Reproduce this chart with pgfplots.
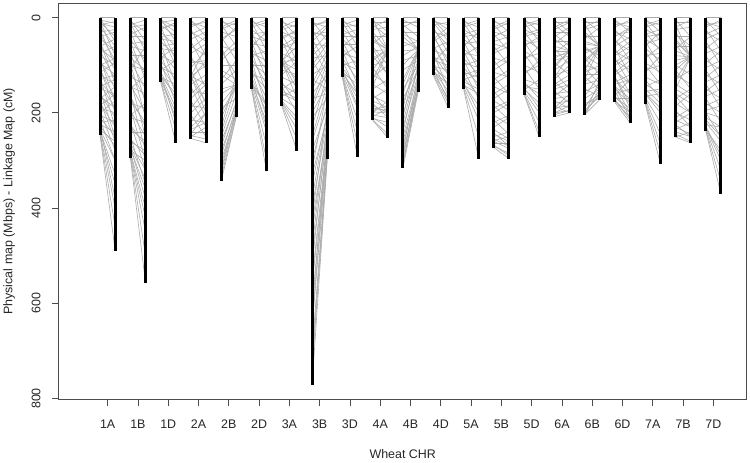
\documentclass[border=0pt]{standalone}
\usepackage{fontspec}
\setmainfont{Liberation Sans}
\usepackage{graphicx}
\usepackage{pgfplots}
\usepackage{pgfplotstable}
\pgfplotsset{compat=1.18}

% bar lengths: c = chromosome index, L = left bar, R = right bar
\pgfplotstableread{
c L R
1 247 490
2 294 557
3 135 263
4 254 263
5 344 208
6 150 323
7 186 280
8 772 298
9 125 293
10 216 252
11 316 156
12 121 190
13 149 296
14 273 296
15 162 251
16 208 200
17 204 172
18 178 221
19 182 307
20 251 263
21 238 371
}\bars

% links: position a on the left bar joined to position b on the right bar
\pgfplotstableread[row sep=\\]{
c a b\\
1 0 0\\1 5 12\\1 10 40\\1 15 8\\1 20 60\\1 30 25\\1 35 90\\1 45 70\\1 55 110\\1 60 45\\1 70 130\\1 80 100\\1 90 150\\1 100 85\\1 110 170\\1 120 140\\1 130 120\\1 140 190\\1 150 160\\1 160 210\\1 170 145\\1 180 230\\1 190 200\\1 200 175\\1 210 250\\1 220 215\\1 228 270\\1 235 300\\1 240 350\\1 243 400\\1 245 440\\1 247 490\\1 238 330\\1 225 240\\
2 0 0\\2 8 30\\2 15 5\\2 25 60\\2 35 20\\2 45 90\\2 55 50\\2 65 120\\2 80 80\\2 90 150\\2 100 110\\2 115 170\\2 125 140\\2 140 200\\2 150 120\\2 165 230\\2 180 190\\2 195 250\\2 210 220\\2 225 270\\2 240 240\\2 255 290\\2 265 320\\2 275 360\\2 282 400\\2 287 450\\2 290 500\\2 294 557\\2 270 340\\2 285 420\\
3 0 0\\3 5 20\\3 10 5\\3 15 40\\3 22 15\\3 30 60\\3 40 35\\3 50 80\\3 60 55\\3 70 110\\3 80 95\\3 90 130\\3 100 150\\3 105 120\\3 115 170\\3 120 190\\3 125 140\\3 130 210\\3 133 235\\3 135 263\\3 128 200\\
4 0 0\\4 10 20\\4 20 5\\4 30 50\\4 45 30\\4 60 80\\4 75 55\\4 90 100\\4 105 70\\4 123 60\\4 123 100\\4 123 140\\4 123 180\\4 123 200\\4 140 120\\4 155 160\\4 170 140\\4 185 190\\4 200 170\\4 215 220\\4 230 200\\4 240 240\\4 248 255\\4 254 263\\4 250 230\\
5 0 0\\5 10 15\\5 20 5\\5 30 40\\5 45 25\\5 60 70\\5 80 50\\5 100 100\\5 120 141\\5 150 141\\5 180 141\\5 210 141\\5 60 141\\5 250 160\\5 270 175\\5 290 185\\5 310 195\\5 325 200\\5 335 205\\5 344 208\\5 230 120\\5 140 110\\5 190 170\\
6 0 0\\6 8 20\\6 15 5\\6 25 50\\6 35 30\\6 45 80\\6 55 60\\6 65 110\\6 75 90\\6 85 140\\6 95 120\\6 105 170\\6 115 150\\6 125 200\\6 135 220\\6 140 240\\6 145 270\\6 148 300\\6 150 323\\6 142 185\\
7 0 0\\7 10 20\\7 20 5\\7 30 45\\7 45 25\\7 55 70\\7 65 50\\7 92 60\\7 92 90\\7 92 110\\7 92 130\\7 92 150\\7 100 80\\7 110 120\\7 125 140\\7 140 160\\7 150 130\\7 160 175\\7 170 190\\7 175 210\\7 180 235\\7 183 255\\7 186 280\\7 165 150\\
8 0 0\\8 10 20\\8 20 5\\8 30 40\\8 40 15\\8 55 60\\8 70 35\\8 85 80\\8 100 55\\8 120 100\\8 140 75\\8 160 120\\8 180 95\\8 200 140\\8 230 120\\8 260 160\\8 300 180\\8 350 200\\8 400 215\\8 450 230\\8 500 245\\8 550 255\\8 600 265\\8 650 275\\8 700 285\\8 740 292\\8 772 298\\8 320 150\\8 420 190\\8 520 225\\8 620 240\\
9 0 0\\9 8 20\\9 15 5\\9 25 45\\9 35 25\\9 45 75\\9 55 55\\9 65 100\\9 75 85\\9 85 130\\9 95 110\\9 105 150\\9 112 170\\9 118 190\\9 121 215\\9 123 240\\9 124 265\\9 125 293\\9 115 140\\
10 0 0\\10 10 10\\10 20 5\\10 30 67\\10 50 67\\10 70 67\\10 90 67\\10 110 67\\10 130 67\\10 5 30\\10 40 40\\10 60 100\\10 80 120\\10 100 90\\10 120 140\\10 140 160\\10 150 130\\10 165 180\\10 175 190\\10 185 200\\10 195 185\\10 205 210\\10 210 230\\10 214 245\\10 216 252\\10 200 175\\10 190 195\\
11 0 0\\11 10 10\\11 20 5\\11 30 30\\11 40 67\\11 70 67\\11 100 67\\11 130 67\\11 160 67\\11 190 67\\11 60 50\\11 90 80\\11 150 100\\11 200 110\\11 230 120\\11 250 130\\11 270 140\\11 290 148\\11 305 152\\11 316 156\\11 220 100\\11 280 120\\11 180 90\\
12 0 0\\12 5 25\\12 10 50\\12 15 10\\12 20 75\\12 30 40\\12 40 90\\12 50 30\\12 60 110\\12 70 80\\12 80 120\\12 90 100\\12 100 140\\12 105 130\\12 110 155\\12 115 170\\12 118 180\\12 121 190\\12 95 60\\
13 0 0\\13 8 20\\13 15 5\\13 25 45\\13 35 25\\13 45 70\\13 55 50\\13 65 95\\13 75 80\\13 85 120\\13 95 105\\13 105 140\\13 115 125\\13 125 165\\13 135 150\\13 140 185\\13 144 215\\13 147 250\\13 149 296\\13 130 120\\
14 0 0\\14 10 15\\14 20 5\\14 30 40\\14 40 25\\14 55 65\\14 70 50\\14 85 95\\14 100 80\\14 115 125\\14 130 110\\14 145 160\\14 160 140\\14 175 195\\14 190 175\\14 205 225\\14 220 205\\14 235 255\\14 250 240\\14 260 275\\14 265 265\\14 270 285\\14 273 296\\14 255 270\\14 245 260\\
15 0 0\\15 8 15\\15 15 5\\15 25 40\\15 35 25\\15 45 65\\15 55 50\\15 70 90\\15 85 75\\15 100 115\\15 115 100\\15 130 140\\15 140 160\\15 150 180\\15 155 200\\15 158 220\\15 160 240\\15 162 251\\15 145 150\\
16 0 0\\16 10 10\\16 20 5\\16 30 30\\16 40 20\\16 50 50\\16 60 70\\16 70 70\\16 80 75\\16 90 80\\16 100 70\\16 110 90\\16 120 110\\16 130 100\\16 140 120\\16 150 140\\16 160 155\\16 170 165\\16 180 175\\16 190 185\\16 200 195\\16 208 200\\16 185 200\\16 195 170\\
17 0 0\\17 10 10\\17 20 5\\17 30 60\\17 50 60\\17 70 60\\17 90 60\\17 110 60\\17 130 60\\17 40 40\\17 60 90\\17 80 100\\17 100 110\\17 120 120\\17 140 130\\17 155 140\\17 170 150\\17 185 160\\17 195 165\\17 204 172\\17 204 150\\17 204 130\\
18 0 0\\18 10 20\\18 20 5\\18 30 45\\18 40 20\\18 50 70\\18 60 40\\18 70 90\\18 80 60\\18 90 110\\18 100 80\\18 110 140\\18 120 100\\18 130 160\\18 140 130\\18 150 180\\18 160 150\\18 165 200\\18 170 170\\18 175 210\\18 178 221\\18 145 200\\18 125 180\\
19 0 0\\19 8 15\\19 15 5\\19 25 40\\19 35 25\\19 45 65\\19 55 45\\19 65 90\\19 80 75\\19 95 115\\19 110 100\\19 125 140\\19 140 160\\19 150 180\\19 160 200\\19 168 220\\19 172 245\\19 176 265\\19 179 285\\19 182 307\\19 155 150\\
20 0 0\\20 10 10\\20 20 5\\20 30 82\\20 50 82\\20 70 82\\20 90 82\\20 110 82\\20 130 82\\20 150 82\\20 40 40\\20 60 60\\20 100 120\\20 120 140\\20 140 160\\20 160 180\\20 180 200\\20 200 215\\20 215 230\\20 230 245\\20 240 250\\20 251 263\\20 170 150\\20 220 200\\20 251 240\\
21 0 0\\21 10 20\\21 20 5\\21 30 50\\21 45 30\\21 60 80\\21 75 60\\21 90 110\\21 105 90\\21 120 140\\21 135 120\\21 150 170\\21 165 150\\21 180 200\\21 195 185\\21 210 230\\21 220 260\\21 228 290\\21 233 320\\21 236 345\\21 238 371\\21 200 250\\
}\links

% more links, same layout
\pgfplotstableread[row sep=\\]{
c a b\\
1 2 50\\1 8 80\\1 12 20\\1 25 100\\1 40 30\\1 50 140\\1 65 90\\1 75 60\\1 85 180\\1 95 120\\1 105 200\\1 115 95\\1 125 230\\1 135 170\\1 145 130\\1 155 250\\1 165 190\\1 175 260\\1 185 160\\1 195 280\\1 205 220\\1 215 300\\1 232 380\\1 236 260\\
2 5 50\\2 12 70\\2 20 15\\2 30 100\\2 40 40\\2 50 130\\2 60 70\\2 70 180\\2 85 110\\2 95 210\\2 110 60\\2 130 250\\2 145 160\\2 160 280\\2 175 220\\2 190 300\\2 205 180\\2 220 320\\2 235 260\\2 250 350\\2 260 280\\2 272 380\\2 279 300\\
3 3 50\\3 8 30\\3 18 90\\3 25 10\\3 35 100\\3 45 50\\3 55 140\\3 65 70\\3 75 160\\3 85 60\\3 95 180\\3 110 90\\3 118 220\\3 123 160\\
4 5 40\\4 15 10\\4 25 80\\4 35 20\\4 50 110\\4 65 40\\4 80 150\\4 95 90\\4 110 180\\4 130 90\\4 145 210\\4 160 130\\4 175 230\\4 190 150\\4 205 250\\4 220 180\\4 235 220\\4 245 200\\
5 5 30\\5 15 60\\5 25 10\\5 40 90\\5 50 20\\5 70 120\\5 90 60\\5 110 130\\5 130 90\\5 160 141\\5 200 141\\5 240 141\\5 260 180\\5 280 195\\5 300 200\\5 320 190\\
6 3 40\\6 10 70\\6 20 10\\6 30 100\\6 40 50\\6 50 130\\6 60 30\\6 70 160\\6 80 70\\6 90 190\\6 100 100\\6 110 210\\6 120 130\\6 130 230\\6 138 180\\
7 5 40\\7 15 60\\7 25 15\\7 35 90\\7 40 30\\7 50 110\\7 60 40\\7 75 92\\7 80 140\\7 92 40\\7 92 170\\7 120 92\\7 135 180\\7 145 200\\7 155 170\\7 178 220\\
8 5 50\\8 15 10\\8 25 80\\8 35 30\\8 45 100\\8 50 20\\8 60 120\\8 80 50\\8 90 140\\8 110 70\\8 130 150\\8 150 90\\8 170 160\\8 190 110\\8 210 170\\8 250 140\\8 280 190\\8 330 210\\8 380 200\\8 430 240\\8 480 220\\8 560 270\\8 640 260\\8 720 290\\
9 3 40\\9 10 60\\9 20 15\\9 30 80\\9 40 40\\9 50 110\\9 60 35\\9 70 140\\9 80 60\\9 90 160\\9 100 90\\9 108 185\\9 117 160\\
10 2 67\\10 15 40\\10 25 20\\10 35 90\\10 45 67\\10 55 30\\10 65 120\\10 85 67\\10 105 150\\10 125 100\\10 145 67\\10 160 200\\10 170 150\\10 180 210\\10 198 200\\10 208 190\\10 212 220\\
11 5 20\\11 15 40\\11 25 67\\11 35 50\\11 50 67\\11 80 60\\11 110 90\\11 140 67\\11 170 110\\11 210 67\\11 240 100\\11 260 140\\11 285 150\\11 300 130\\11 310 145\\
12 3 40\\12 8 15\\12 25 60\\12 35 100\\12 45 20\\12 55 120\\12 65 50\\12 75 150\\12 85 90\\12 92 165\\12 102 110\\12 108 175\\12 113 140\\
13 3 40\\13 10 60\\13 20 10\\13 30 80\\13 40 35\\13 50 110\\13 60 30\\13 70 130\\13 80 60\\13 90 150\\13 100 90\\13 110 170\\13 120 110\\13 137 200\\13 142 160\\
14 5 30\\14 15 50\\14 25 10\\14 35 70\\14 50 40\\14 60 100\\14 75 60\\14 90 130\\14 110 90\\14 125 160\\14 140 120\\14 155 190\\14 170 150\\14 185 215\\14 200 180\\14 215 245\\14 230 210\\14 242 270\\14 258 250\\14 268 290\\
15 3 30\\15 10 50\\15 20 10\\15 30 70\\15 40 30\\15 50 100\\15 60 40\\15 75 120\\15 90 60\\15 105 150\\15 120 90\\15 135 170\\15 148 190\\15 152 130\\
16 5 30\\16 15 40\\16 25 10\\16 35 60\\16 45 70\\16 55 30\\16 65 100\\16 75 50\\16 85 70\\16 95 120\\16 105 70\\16 115 150\\16 125 80\\16 135 160\\16 145 130\\16 155 180\\16 165 140\\16 175 190\\16 190 160\\16 200 185\\16 204 195\\
17 5 30\\17 15 60\\17 25 15\\17 35 60\\17 45 20\\17 55 60\\17 65 80\\17 75 60\\17 85 120\\17 95 60\\17 105 140\\17 115 100\\17 125 150\\17 135 110\\17 150 165\\17 165 120\\17 180 170\\17 190 140\\17 200 160\\
18 5 30\\18 15 10\\18 25 60\\18 35 30\\18 45 90\\18 55 20\\18 65 120\\18 75 50\\18 85 140\\18 95 70\\18 105 160\\18 115 90\\18 125 190\\18 135 120\\18 145 170\\18 155 210\\18 162 130\\18 168 190\\18 172 215\\18 176 200\\
19 3 30\\19 10 50\\19 20 10\\19 30 70\\19 40 35\\19 50 100\\19 60 30\\19 70 120\\19 85 60\\19 100 140\\19 115 80\\19 130 170\\19 145 130\\19 158 190\\19 165 160\\
20 5 40\\20 15 82\\20 25 20\\20 35 60\\20 45 82\\20 55 100\\20 65 40\\20 80 82\\20 100 82\\20 110 150\\20 130 110\\20 150 170\\20 165 200\\20 185 160\\20 195 230\\20 210 190\\20 225 250\\20 235 220\\20 245 260\\
21 5 40\\21 15 10\\21 25 70\\21 35 20\\21 50 100\\21 65 40\\21 80 130\\21 95 70\\21 110 160\\21 125 100\\21 140 190\\21 155 130\\21 170 220\\21 185 170\\21 200 210\\21 215 250\\21 225 230\\21 231 300\\21 235 280\\
}\linksb

\begin{document}
\begin{tikzpicture}
\begin{axis}[
  name=ax,
  scale only axis,
  width=689bp, height=396.7bp,
  xmin=-0.615, xmax=22.1,
  ymin=-30.1, ymax=802,
  y dir=reverse,
  axis line style={black!70, line width=0.8bp},
  tick style={black!70, line width=0.8bp},
  tick align=outside,
  tick pos=left,
  major tick length=7bp,
  xtick={1,...,21},
  xticklabels={1A,1B,1D,2A,2B,2D,3A,3B,3D,4A,4B,4D,5A,5B,5D,6A,6B,6D,7A,7B,7D},
  ytick={0,200,400,600,800},
  /pgf/number format/assume math mode=true,
  ticklabel style={font=\fontsize{12.5}{15}\selectfont, text=black!85},
  xticklabel style={anchor=north, inner sep=0pt, yshift=-13bp},
  yticklabel={\rotatebox{90}{\pgfmathprintnumber{\tick}}},
  yticklabel style={anchor=east, inner sep=0pt, xshift=-11bp},
  xlabel={Wheat CHR},
  ylabel={Physical map (Mbps) - Linkage Map (cM)},
  every axis x label/.style={at={(axis description cs:0.5,-0.1386)}, anchor=center, font=\fontsize{12.5}{15}\selectfont, text=black!85},
  every axis y label/.style={at={(axis description cs:-0.0721,0.5)}, rotate=90, anchor=center, font=\fontsize{12.5}{15}\selectfont, text=black!85},
]
\addplot[quiver={u=0.5, v=\thisrow{b}-\thisrow{a}}, draw={rgb,255:red,170;green,170;blue,170}, line width=0.6bp]
  table[x expr=\thisrow{c}-0.25, y=a] {\links};
\addplot[quiver={u=0.5, v=\thisrow{b}-\thisrow{a}}, draw={rgb,255:red,170;green,170;blue,170}, line width=0.6bp]
  table[x expr=\thisrow{c}-0.25, y=a] {\linksb};
\addplot[quiver={u=0, v=\thisrow{L}}, draw=black, line width=3bp, line cap=butt]
  table[x expr=\thisrow{c}-0.25, y expr=0] {\bars};
\addplot[quiver={u=0, v=\thisrow{R}}, draw=black, line width=3bp, line cap=butt]
  table[x expr=\thisrow{c}+0.25, y expr=0] {\bars};
\end{axis}
\path ([xshift=-57.7bp, yshift=-62bp]ax.south west) rectangle ([xshift=3.3bp, yshift=3.3bp]ax.north east);
\end{tikzpicture}
\end{document}
